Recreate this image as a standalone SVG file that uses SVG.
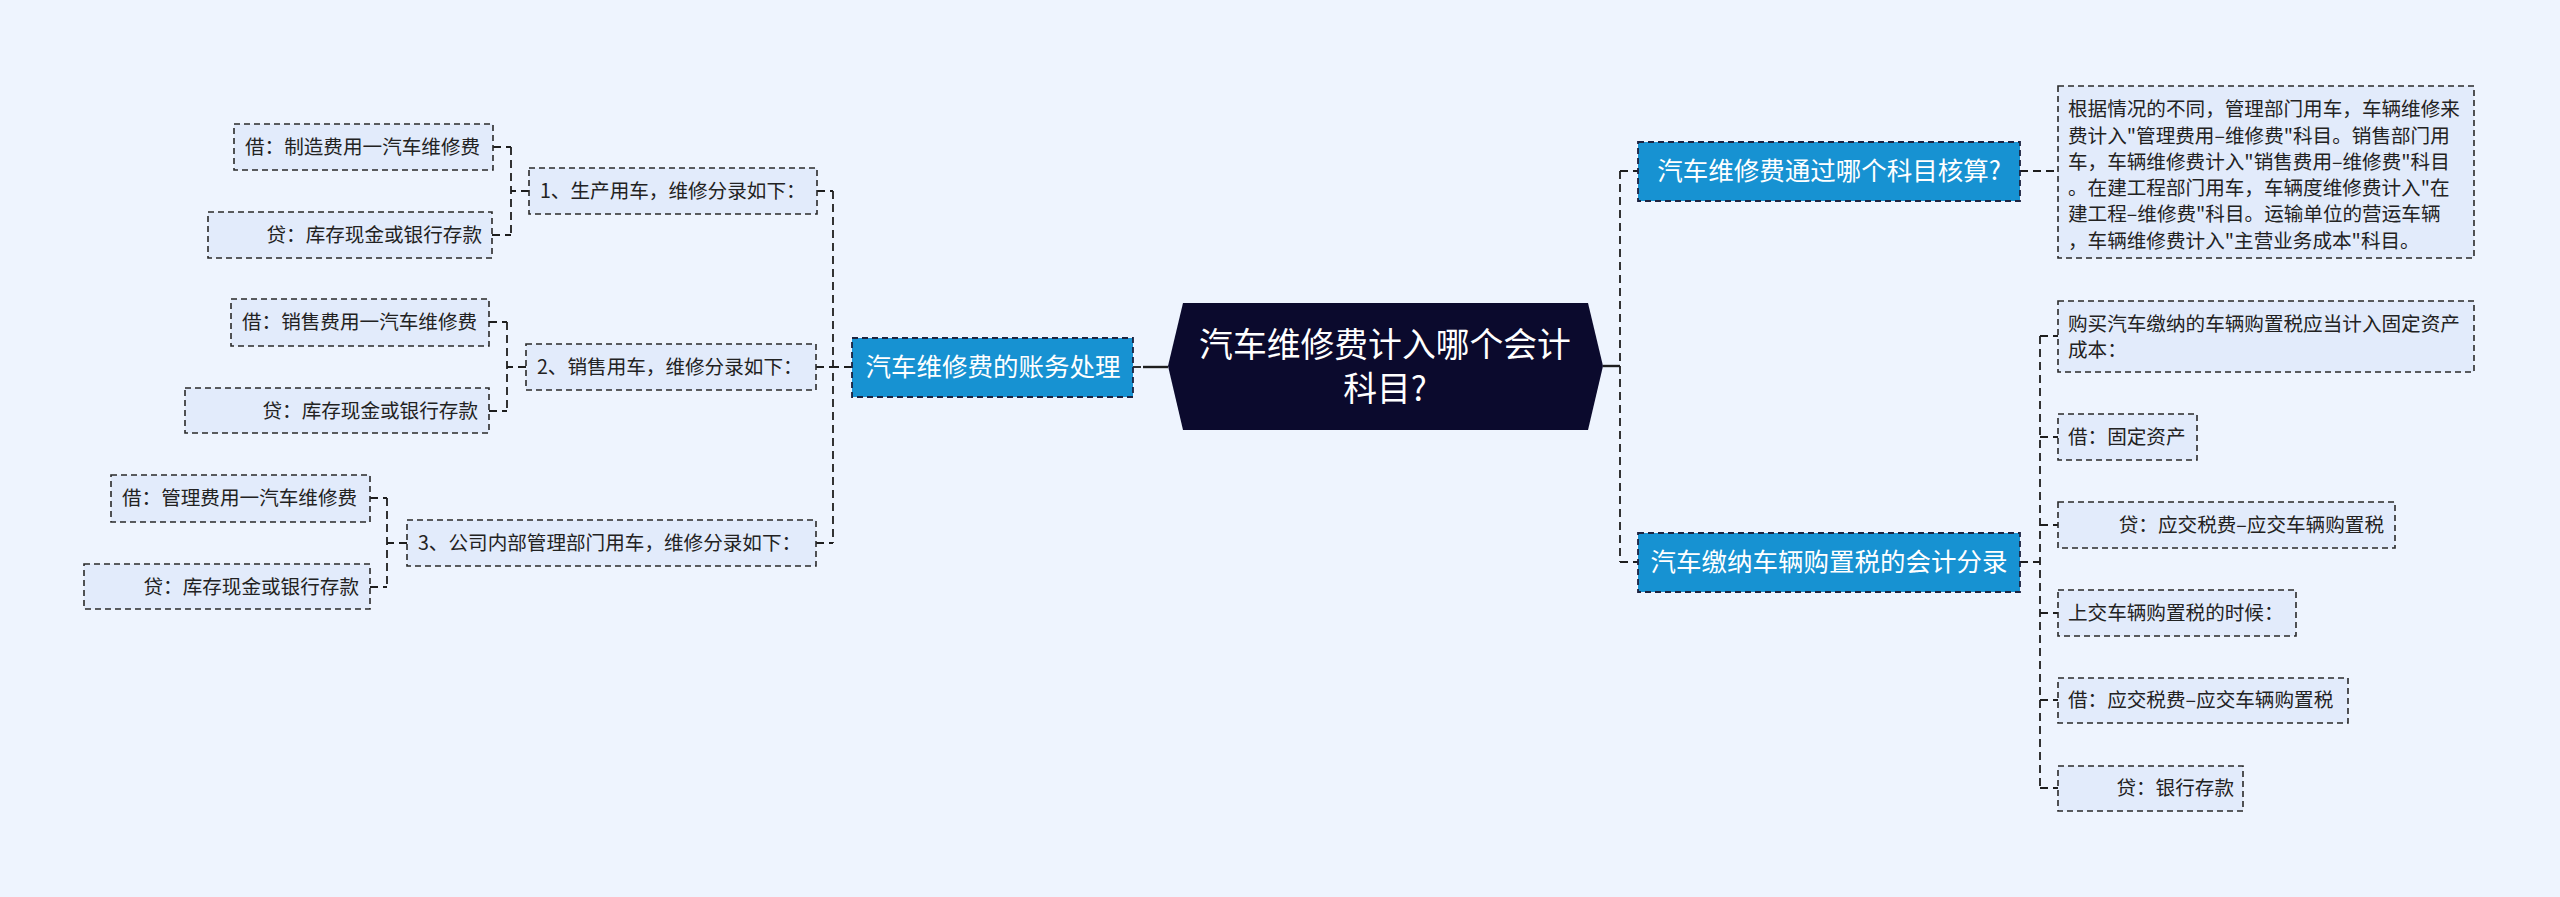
<svg xmlns="http://www.w3.org/2000/svg" width="2560" height="897" viewBox="0 0 2560 897">
<style>
text{font-family:"Noto Sans CJK SC","Noto Sans",sans-serif;}
.leaf rect{fill:#e2ebfb;stroke:#2a2a2a;stroke-width:1.6;stroke-dasharray:6 4;}
.leaf text{font-size:19.6px;fill:#222;}
.branch rect{fill:#1792d2;stroke:#1c2340;stroke-width:1.8;stroke-dasharray:6 4;}
.branch text{font-size:25.5px;fill:#fff;text-anchor:middle;}
.conn path{fill:none;stroke:#1e1e1e;stroke-width:1.8;stroke-dasharray:8 5;}
.conn .solid{stroke-dasharray:none;stroke-width:2.4;}
.e{text-anchor:end;}
</style>
<rect width="2560" height="897" fill="#eef4fe"/>
<g id="connectors" class="conn">
<path class="solid" d="M1143 367H1168"/>
<path d="M1133 367H1143"/>
<path class="solid" d="M1603 366H1620"/>
<path d="M1620 171V562M1620 171H1638M1620 562H1638"/>
<path d="M2020 171H2058"/>
<path d="M2020 562H2040M2040 336V788M2040 336H2058M2040 437H2058M2040 525H2058M2040 613H2058M2040 700H2058M2040 788H2058"/>
<path d="M852 367H833M833 191V543M817 191H833M816 367H833M816 543H833"/>
<path d="M529 191H511M511 147V235M493 147H511M492 235H511"/>
<path d="M526 367H507M507 322V411M489 322H507M489 411H507"/>
<path d="M407 543H387M387 498V587M370 498H387M370 587H387"/>
</g>
<g id="root">
<polygon points="1168,366 1183,303 1588,303 1603,366 1588,430 1183,430" fill="#0b0a2d"/>
<text x="1385" y="357" font-size="33.8" fill="#fff" text-anchor="middle">汽车维修费计入哪个会计</text>
<text x="1385" y="401" font-size="33.8" fill="#fff" text-anchor="middle">科目?</text>
</g>
<g id="b-left" class="branch">
<rect x="852" y="338" width="281" height="59"/>
<text x="993" y="376">汽车维修费的账务处理</text>
</g>
<g id="b-right1" class="branch">
<rect x="1638" y="142" width="382" height="59"/>
<text x="1829" y="180">汽车维修费通过哪个科目核算?</text>
</g>
<g id="b-right2" class="branch">
<rect x="1638" y="533" width="382" height="59"/>
<text x="1829" y="571">汽车缴纳车辆购置税的会计分录</text>
</g>
<g id="detail1" class="leaf">
<rect x="2058" y="86" width="416" height="172"/>
<text x="2068" y="116">根据情况的不同，管理部门用车，车辆维修来</text>
<text x="2068" y="143">费计入"管理费用–维修费"科目。销售部门用</text>
<text x="2068" y="169">车，车辆维修费计入"销售费用–维修费"科目</text>
<text x="2068" y="195">。在建工程部门用车，车辆度维修费计入"在</text>
<text x="2068" y="221">建工程–维修费"科目。运输单位的营运车辆</text>
<text x="2068" y="248">，车辆维修费计入"主营业务成本"科目。</text>
</g>
<g id="r1" class="leaf">
<rect x="2058" y="301" width="416" height="71"/>
<text x="2068" y="331">购买汽车缴纳的车辆购置税应当计入固定资产</text>
<text x="2068" y="357">成本：</text>
</g>
<g id="r2" class="leaf">
<rect x="2058" y="414" width="139" height="46"/>
<text x="2068" y="444">借：固定资产</text>
</g>
<g id="r3" class="leaf">
<rect x="2058" y="502" width="337" height="46"/>
<text class="e" x="2384" y="532">贷：应交税费–应交车辆购置税</text>
</g>
<g id="r4" class="leaf">
<rect x="2058" y="590" width="238" height="46"/>
<text x="2068" y="620">上交车辆购置税的时候：</text>
</g>
<g id="r5" class="leaf">
<rect x="2058" y="678" width="290" height="45"/>
<text x="2068" y="707">借：应交税费–应交车辆购置税</text>
</g>
<g id="r6" class="leaf">
<rect x="2058" y="766" width="185" height="45"/>
<text class="e" x="2234" y="795">贷：银行存款</text>
</g>
<g id="l1" class="leaf">
<rect x="529" y="168" width="288" height="46"/>
<text x="540" y="198">1、生产用车，维修分录如下：</text>
</g>
<g id="l1a" class="leaf">
<rect x="234" y="124" width="259" height="46"/>
<text x="245" y="154">借：制造费用一汽车维修费</text>
</g>
<g id="l1b" class="leaf">
<rect x="208" y="212" width="284" height="46"/>
<text class="e" x="482" y="242">贷：库存现金或银行存款</text>
</g>
<g id="l2" class="leaf">
<rect x="526" y="344" width="290" height="46"/>
<text x="537" y="374">2、销售用车，维修分录如下：</text>
</g>
<g id="l2a" class="leaf">
<rect x="231" y="299" width="258" height="47"/>
<text x="242" y="329">借：销售费用一汽车维修费</text>
</g>
<g id="l2b" class="leaf">
<rect x="185" y="388" width="304" height="45"/>
<text class="e" x="478" y="418">贷：库存现金或银行存款</text>
</g>
<g id="l3" class="leaf">
<rect x="407" y="520" width="409" height="46"/>
<text x="418" y="550">3、公司内部管理部门用车，维修分录如下：</text>
</g>
<g id="l3a" class="leaf">
<rect x="111" y="475" width="259" height="47"/>
<text x="122" y="505">借：管理费用一汽车维修费</text>
</g>
<g id="l3b" class="leaf">
<rect x="84" y="564" width="286" height="45"/>
<text class="e" x="359" y="594">贷：库存现金或银行存款</text>
</g>
</svg>
